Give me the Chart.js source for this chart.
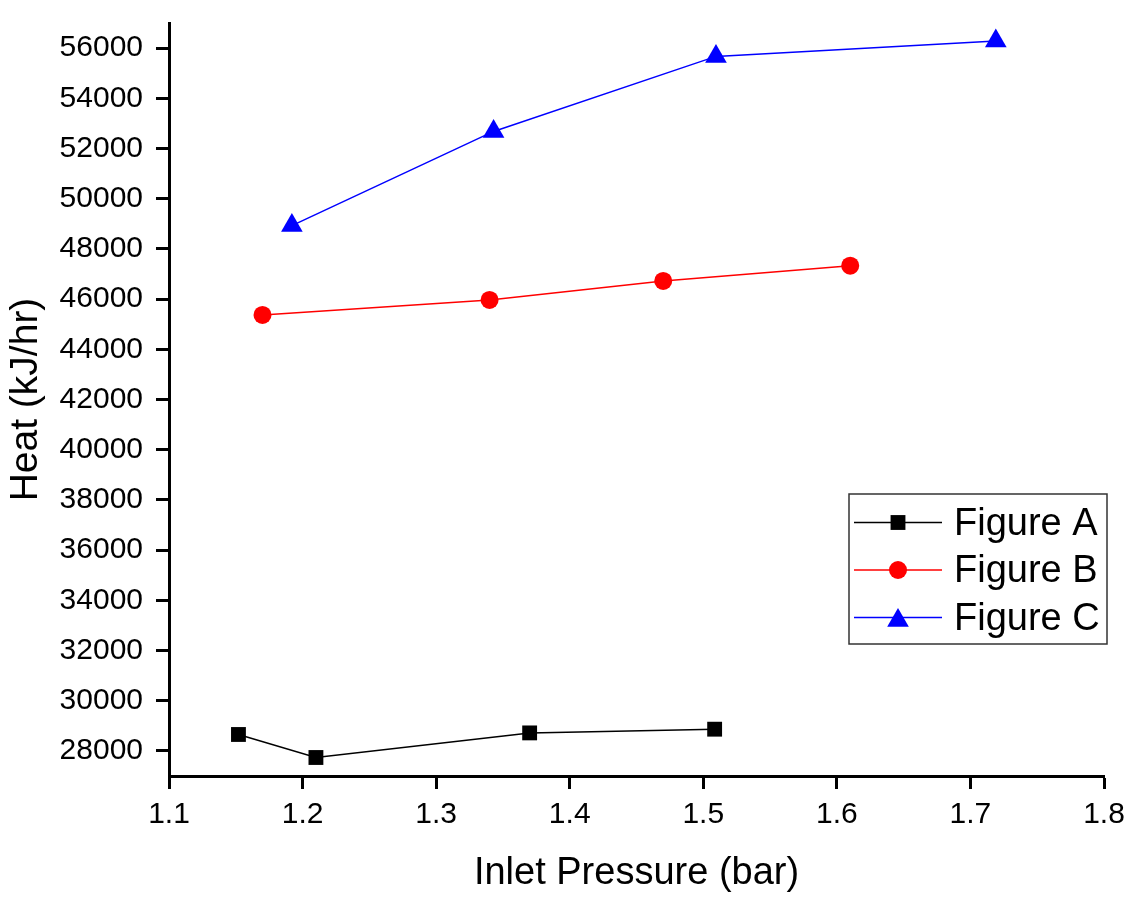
<!DOCTYPE html>
<html>
<head>
<meta charset="utf-8">
<script src="https://cdn.jsdelivr.net/npm/chart.js@4"></script>
<style>
    html, body { margin: 0; padding: 0; background: #ffffff; }
    #wrap { width: 1130px; height: 899px; position: relative; }
</style>
</head>
<body>
<div id="wrap"><canvas id="heatChart"></canvas></div>
<script>
// data
const seriesNames = ['Figure A', 'Figure B', 'Figure C'];
const pressureA = [1.152, 1.210, 1.370, 1.5085];
const heatA = [28654, 27737, 28717, 28865];
const pressureB = [1.170, 1.340, 1.470, 1.610];
const heatB = [45369, 45967, 46724, 47332];
const pressureC = [1.192, 1.343, 1.5095, 1.719];
const heatC = [48930, 52680, 55670, 56280];

const xMin = 1.1, xMax = 1.8, xStep = 0.05;
const yMin = 27000, yMax = 57000, yStep = 1000;

const FONT = "'Liberation Sans', Arial, sans-serif";

function toPoints(xs, ys) {
    return xs.map((x, i) => ({ x: x, y: ys[i] }));
}

function isMajorX(v) {
    return Math.abs(v * 10 - Math.round(v * 10)) < 1e-6;
}
function isMajorY(v) {
    return Math.round(v) % 2000 === 0;
}

// minor ticks (half steps), drawn through the scales
const minorTicks = {
    id: 'minorTicks',
    afterDraw(chart) {
        const ctx = chart.ctx;
        const xs = chart.scales.x, ys = chart.scales.y;
        ctx.save();
        ctx.strokeStyle = '#000000';
        ctx.lineWidth = 3;
        ctx.beginPath();
        xs.ticks.forEach(t => {
            if (isMajorX(t.value)) return;
            const px = xs.getPixelForValue(t.value);
            ctx.moveTo(px, xs.top);
            ctx.lineTo(px, xs.top + 7);
        });
        ys.ticks.forEach(t => {
            if (isMajorY(t.value)) return;
            const py = ys.getPixelForValue(t.value);
            ctx.moveTo(ys.right, py);
            ctx.lineTo(ys.right - 7, py);
        });
        ctx.stroke();
        ctx.restore();
    }
};

// Origin-style legend box inside the plot
const boxLegend = {
    id: 'boxLegend',
    afterDraw(chart) {
        const ctx = chart.ctx;
        const area = chart.chartArea;
        const left = area.right - 255, top = area.top + 471;
        const w = 258, h = 150, rowH = 47.5;
        ctx.save();
        ctx.strokeStyle = '#333333';
        ctx.lineWidth = 1.5;
        ctx.strokeRect(left, top, w, h);
        chart.data.datasets.forEach((ds, i) => {
            const cy = top + 28.5 + i * rowH;
            ctx.strokeStyle = ds.borderColor;
            ctx.lineWidth = 1.5;
            ctx.beginPath();
            ctx.moveTo(left + 5, cy);
            ctx.lineTo(left + 93, cy);
            ctx.stroke();
            ctx.fillStyle = ds.pointBackgroundColor;
            ctx.strokeStyle = ds.pointBackgroundColor;
            Chart.helpers.drawPoint(ctx, {
                pointStyle: ds.pointStyle,
                radius: ds.pointRadius,
                rotation: 0,
                borderWidth: 0
            }, left + 49, cy + (ds.pointStyle === 'triangle' ? 3 : 0));
            ctx.fillStyle = '#000000';
            ctx.font = '38px ' + FONT;
            ctx.textBaseline = 'middle';
            ctx.textAlign = 'left';
            ctx.fillText(ds.label, left + 105, cy + 2);
        });
        ctx.restore();
    }
};

function initChart() {
    const ctx = document.getElementById('heatChart').getContext('2d');
    const lineSet = (label, xs, ys, color, style, radius) => ({
        label: label,
        data: toPoints(xs, ys),
        showLine: true,
        borderColor: color,
        borderWidth: 1.5,
        pointStyle: style,
        pointRadius: radius,
        pointHoverRadius: radius,
        pointBackgroundColor: color,
        pointBorderColor: color,
        pointBorderWidth: 0,
        clip: false
    });

    new Chart(ctx, {
        type: 'scatter',
        data: {
            datasets: [
                lineSet(seriesNames[0], pressureA, heatA, '#000000', 'rect', 10.5),
                lineSet(seriesNames[1], pressureB, heatB, '#ff0000', 'circle', 9),
                lineSet(seriesNames[2], pressureC, heatC, '#0000ff', 'triangle', 12.5)
            ]
        },
        options: {
            responsive: true,
            maintainAspectRatio: false,
            animation: false,
            layout: {
                padding: { left: 0, right: 26, top: 23, bottom: 0 }
            },
            plugins: {
                legend: { display: false },
                tooltip: { enabled: false }
            },
            scales: {
                x: {
                    type: 'linear',
                    min: xMin,
                    max: xMax,
                    afterFit: function(scale) { scale.height = 123; },
                    border: { display: true, color: '#000000', width: 3 },
                    grid: {
                        drawOnChartArea: false,
                        drawTicks: true,
                        tickLength: 13,
                        tickWidth: 3,
                        tickColor: c => (c.tick && isMajorX(c.tick.value)) ? '#000000' : 'rgba(0,0,0,0)'
                    },
                    ticks: {
                        stepSize: xStep,
                        autoSkip: false,
                        maxRotation: 0,
                        padding: 5,
                        color: '#000000',
                        font: { family: FONT, size: 30, lineHeight: 1.4 },
                        callback: v => isMajorX(v) ? v.toFixed(1) : null
                    },
                    title: {
                        display: true,
                        text: 'Inlet Pressure (bar)',
                        color: '#000000',
                        font: { family: FONT, size: 38 },
                        padding: { top: 0, bottom: 3 }
                    }
                },
                y: {
                    type: 'linear',
                    min: yMin,
                    max: yMax,
                    afterFit: function(scale) { scale.width = 169; },
                    border: { display: true, color: '#000000', width: 3 },
                    grid: {
                        drawOnChartArea: false,
                        drawTicks: true,
                        tickLength: 13,
                        tickWidth: 3,
                        tickColor: c => (c.tick && isMajorY(c.tick.value)) ? '#000000' : 'rgba(0,0,0,0)'
                    },
                    ticks: {
                        stepSize: yStep,
                        autoSkip: false,
                        padding: 13,
                        color: '#000000',
                        font: { family: FONT, size: 30, lineHeight: 0.6 },
                        callback: v => isMajorY(v) ? String(Math.round(v)) : null
                    },
                    title: {
                        display: true,
                        text: 'Heat (kJ/hr)',
                        color: '#000000',
                        font: { family: FONT, size: 39 },
                        padding: { top: 3, bottom: 0 }
                    }
                }
            }
        },
        plugins: [minorTicks, boxLegend]
    });
}

window.addEventListener('DOMContentLoaded', function() {
    initChart();
});
</script>
</body>
</html>
